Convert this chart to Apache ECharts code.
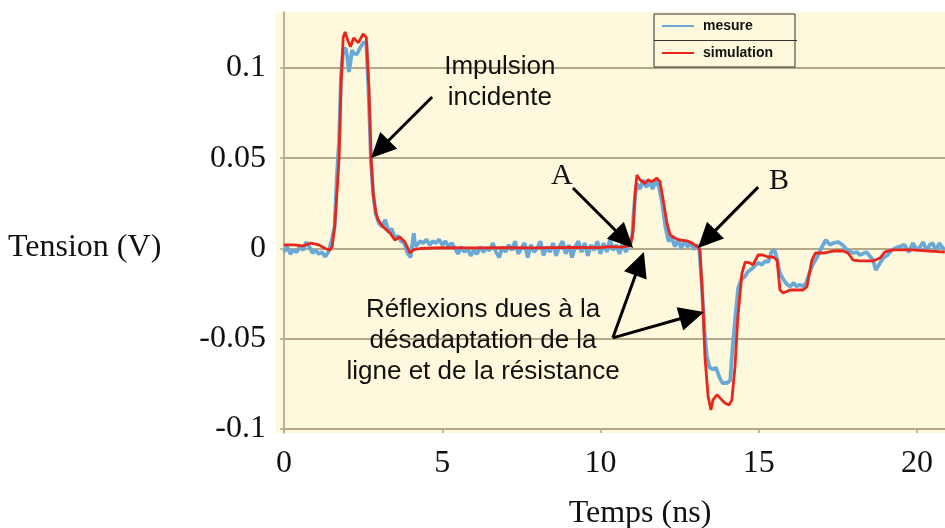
<!DOCTYPE html>
<html><head><meta charset="utf-8">
<script src="https://cdn.jsdelivr.net/npm/echarts@6/dist/echarts.min.js"></script>
<style>html,body{margin:0;padding:0;background:#fff}#c{width:945px;height:528px}</style>
</head><body><div id="c"></div>
<script>
// ---- data ----
const xTicks = [0, 5, 10, 15, 20];
const yTicks = [-0.1, -0.05, 0, 0.05, 0.1];
const yTickLabels = ['-0.1', '-0.05', '0', '0.05', '0.1'];
const seriesNames = ['mesure', 'simulation'];
const xName = 'Temps (ns)';
const yName = 'Tension (V)';

// simulation (red) : [time ns, voltage V]
const simulation = [
 [0.0,0.002],[0.3,0.002],[0.6,0.0015],[0.85,0.003],[1.1,0.002],[1.3,0.0],[1.45,-0.001],[1.52,0.001],
 [1.6,0.012],[1.67,0.03],[1.74,0.05],[1.8,0.09],[1.87,0.117],[1.93,0.120],[2.0,0.116],[2.1,0.1117],
 [2.2,0.1166],[2.35,0.114],[2.5,0.1188],[2.6,0.117],[2.68,0.09],[2.75,0.050],[2.82,0.03],[2.9,0.02],
 [2.97,0.016],[3.13,0.012],[3.35,0.0086],[3.5,0.0047],[3.66,0.0064],[3.82,0.0036],[3.98,-0.0025],
 [4.08,-0.0008],[4.3,0.0],[5.0,0.0005],[6.0,0.0003],[7.0,0.0005],[8.0,0.0003],[9.0,0.0006],[10.0,0.0005],
 [10.3,0.001],[10.7,0.0008],[10.95,0.002],[11.03,0.010],[11.1,0.032],[11.15,0.0407],[11.25,0.038],
 [11.41,0.036],[11.5,0.038],[11.63,0.037],[11.78,0.039],[11.88,0.037],[11.98,0.027],[12.1,0.014],
 [12.2,0.0075],[12.35,0.0058],[12.5,0.0047],[12.73,0.0042],[12.9,0.003],[13.08,0.0008],[13.14,-0.0008],
 [13.24,-0.032],[13.30,-0.060],[13.40,-0.082],[13.49,-0.0895],[13.55,-0.084],[13.68,-0.081],[13.84,-0.084],
 [13.93,-0.0856],[14.06,-0.0867],[14.15,-0.084],[14.25,-0.0656],[14.34,-0.038],[14.47,-0.0136],
 [14.57,-0.0075],[14.72,-0.008],[14.82,-0.009],[14.98,-0.0036],[15.13,-0.0036],[15.29,-0.0047],
 [15.45,-0.0047],[15.58,-0.0064],[15.67,-0.023],[15.77,-0.0247],[15.99,-0.023],[16.21,-0.023],
 [16.40,-0.023],[16.52,-0.0213],[16.68,-0.0064],[16.79,-0.0025],[17.04,-0.0025],[17.35,-0.0014],
 [17.66,-0.0014],[17.82,-0.0025],[17.98,-0.0064],[18.20,-0.0069],[18.61,-0.0069],[18.83,-0.0053],
 [18.99,-0.0019],[19.24,-0.0008],[19.87,-0.0008],[20.41,-0.0014],[20.88,-0.002]
];

// mesure (blue) : [time ns, voltage V]
const mesure = [
 [0.0,-0.002],[0.1,0.001],[0.2,-0.003],[0.3,-0.001],[0.4,-0.002],[0.5,0.001],[0.6,-0.001],[0.7,0.0035],
 [0.8,0.001],[0.9,-0.0025],[1.0,-0.001],[1.1,-0.003],[1.2,-0.002],[1.3,-0.0045],[1.4,-0.002],[1.5,0.004],
 [1.55,0.003],[1.6,0.012],[1.67,0.04],[1.74,0.06],[1.8,0.095],[1.87,0.11],[1.95,0.111],[2.0,0.106],
 [2.05,0.0978],[2.1,0.103],[2.15,0.110],[2.2,0.108],[2.3,0.1075],[2.4,0.111],[2.5,0.114],[2.6,0.114],
 [2.67,0.088],[2.75,0.048],[2.82,0.03],[2.9,0.019],[3.0,0.014],[3.1,0.012],[3.2,0.016],[3.3,0.009],
 [3.4,0.011],[3.5,0.006],[3.6,0.007],[3.7,0.004],[3.8,0.003],[3.9,-0.0025],[4.0,-0.005],[4.1,0.0085],
 [4.15,0.001],[4.2,0.002],[4.3,0.004],[4.4,0.003],[4.5,0.005],[4.6,0.002],[4.7,0.004],[4.8,0.003],
 [4.9,0.005],[5.0,0.002],[5.1,0.004],[5.2,0.001],[5.3,0.003],[5.4,0.0],[5.5,-0.003],[5.6,0.001],
 [5.7,-0.002],[5.8,0.0],[5.9,-0.004],[6.0,-0.001],[6.1,-0.003],[6.2,0.001],[6.3,-0.002],[6.4,0.0],
 [6.5,-0.001],[6.6,0.003],[6.7,-0.002],[6.8,-0.005],[6.9,0.001],[7.0,-0.002],[7.1,0.002],[7.2,-0.001],
 [7.3,0.004],[7.4,-0.003],[7.5,0.0],[7.6,0.003],[7.7,-0.005],[7.8,0.002],[7.9,-0.002],[8.0,0.0],
 [8.1,0.004],[8.2,-0.004],[8.3,0.001],[8.4,-0.002],[8.5,0.003],[8.6,-0.004],[8.7,0.001],[8.8,0.004],
 [8.9,-0.003],[9.0,0.002],[9.1,-0.005],[9.2,0.001],[9.3,0.004],[9.4,-0.002],[9.5,0.003],[9.6,-0.004],
 [9.7,0.002],[9.8,-0.001],[9.9,0.004],[10.0,-0.003],[10.1,0.003],[10.2,-0.002],[10.3,0.005],[10.4,-0.001],
 [10.5,0.002],[10.6,-0.003],[10.7,0.003],[10.8,-0.002],[10.9,0.002],[11.0,0.006],[11.05,0.02],[11.1,0.03],
 [11.15,0.036],[11.25,0.033],[11.35,0.038],[11.45,0.034],[11.55,0.037],[11.65,0.033],[11.75,0.038],
 [11.85,0.034],[11.95,0.025],[12.05,0.012],[12.15,0.004],[12.25,0.006],[12.35,0.001],[12.45,0.005],
 [12.55,0.0],[12.65,0.004],[12.75,0.001],[12.85,0.003],[12.95,-0.0005],[13.05,0.002],[13.12,0.0005],
 [13.2,-0.02],[13.28,-0.045],[13.36,-0.06],[13.45,-0.066],[13.55,-0.067],[13.65,-0.066],[13.75,-0.071],
 [13.85,-0.0745],[14.0,-0.0745],[14.1,-0.073],[14.15,-0.06],[14.25,-0.04],[14.35,-0.022],[14.45,-0.017],
 [14.55,-0.0158],[14.65,-0.013],[14.8,-0.011],[14.9,-0.009],[15.0,-0.008],[15.1,-0.009],[15.2,-0.007],
 [15.3,-0.0075],[15.4,-0.002],[15.5,-0.0008],[15.58,-0.006],[15.67,-0.0136],[15.77,-0.017],[15.9,-0.02],
 [16.0,-0.021],[16.1,-0.019],[16.2,-0.021],[16.3,-0.02],[16.4,-0.021],[16.5,-0.019],[16.6,-0.0136],
 [16.7,-0.009],[16.85,-0.0047],[17.0,0.001],[17.12,0.0047],[17.25,0.002],[17.35,0.003],[17.5,0.0036],
 [17.65,0.002],[17.8,-0.001],[17.98,-0.0025],[18.1,-0.002],[18.2,-0.0036],[18.4,-0.002],[18.5,-0.004],
 [18.61,-0.0064],[18.7,-0.012],[18.83,-0.008],[18.95,-0.005],[19.05,-0.004],[19.2,-0.001],[19.35,0.0005],
 [19.45,0.001],[19.6,0.002],[19.75,-0.002],[19.87,0.003],[20.0,-0.001],[20.1,0.001],[20.2,0.0036],
 [20.3,-0.0015],[20.4,0.002],[20.5,0.003],[20.6,-0.0015],[20.7,0.003],[20.88,-0.001]
];

// annotations (data coordinates)
const textNotes = [
 {text: 'Impulsion\nincidente', at: [6.82, 0.0922], serif: false},
 {text: 'Réflexions dues à la\ndésadaptation de la\nligne et de la résistance', at: [6.29, -0.0512], serif: false},
 {text: 'A', at: [8.78, 0.0402], serif: true},
 {text: 'B', at: [15.64, 0.0374], serif: true}
];
const arrowNotes = [
 {from: [4.68, 0.0839], to: [2.75, 0.0501]},
 {from: [9.13, 0.0335], to: [11.03, 0.0003]},
 {from: [14.98, 0.0340], to: [13.08, 0.0003]},
 {from: [10.39, -0.0495], to: [11.37, -0.0019]},
 {from: [10.39, -0.0495], to: [13.27, -0.0352]}
];

// ---- chart ----
const X_MIN = -0.253, X_MAX = 20.885, Y_MIN = -0.1022, Y_MAX = 0.131;
const SERIF = '"Liberation Serif", "DejaVu Serif", serif';
const SANS = '"Liberation Sans", Arial, sans-serif';
const GRID_COLOR = '#b3a88c';
const BLUE = '#6aa9d6', RED = '#e8261c';

const chart = echarts.init(document.getElementById('c'), null, {renderer: 'canvas'});
chart.setOption({
  animation: false,
  grid: {left: 276, right: 0, top: 12, bottom: 95, show: true, backgroundColor: '#fef9dc', borderWidth: 0},
  legend: {
    data: seriesNames, orient: 'vertical', left: 654, top: 14, icon: 'rect',
    padding: [5, 22, 7, 8], itemGap: 13, itemWidth: 32, itemHeight: 2,
    backgroundColor: '#fef9dc', borderColor: '#333', borderWidth: 1,
    textStyle: {fontFamily: SANS, fontWeight: 'bold', fontSize: 14, color: '#111', lineHeight: 14, padding: [0, 0, 0, 4]}
  },
  xAxis: {
    type: 'value', min: X_MIN, max: X_MAX,
    axisLine: {show: false, onZero: false},
    splitLine: {show: false},
    axisTick: {show: true, customValues: xTicks, inside: true, length: 5, lineStyle: {color: GRID_COLOR, width: 1.5}},
    axisLabel: {customValues: xTicks, margin: 15, fontFamily: SERIF, fontSize: 32, color: '#111'}
  },
  yAxis: {
    type: 'value', min: Y_MIN, max: Y_MAX,
    axisLine: {show: true, onZero: true, lineStyle: {color: '#a8997e', width: 1.5}},
    splitLine: {show: false},
    axisTick: {show: true, customValues: yTicks, length: 4, lineStyle: {color: GRID_COLOR, width: 1.5}},
    axisLabel: {customValues: yTicks, margin: 10, fontFamily: SERIF, fontSize: 32, color: '#111',
      formatter: v => { const i = yTicks.findIndex(t => Math.abs(t - v) < 1e-9); return i >= 0 ? yTickLabels[i] : ''; }}
  },
  series: [
    {name: seriesNames[0], type: 'line', data: mesure, symbol: 'none', z: 3,
     lineStyle: {color: BLUE, width: 3.8}, itemStyle: {color: BLUE},
     markLine: {silent: true, z: 1, symbol: 'none', label: {show: false},
       lineStyle: {color: GRID_COLOR, width: 1.8, type: 'solid'},
       data: yTicks.map(v => [{coord: [0, v]}, {coord: [X_MAX, v]}])}},
    {name: seriesNames[1], type: 'line', data: simulation, symbol: 'none', z: 4,
     lineStyle: {color: RED, width: 2.8}, itemStyle: {color: RED}}
  ]
});

// annotations converted from data coordinates
const g = [];
const toPx = p => chart.convertToPixel({gridIndex: 0}, p);
textNotes.forEach(n => {
  const p = toPx(n.at);
  g.push({type: 'text', z: 50, style: {text: n.text, x: p[0], y: p[1], align: 'center', verticalAlign: 'middle',
    fontFamily: n.serif ? SERIF : SANS, fontSize: n.serif ? 30 : 26, lineHeight: 31, fill: '#111'}});
});
arrowNotes.forEach(a => {
  const p0 = toPx(a.from), p1 = toPx(a.to);
  const dx = p1[0] - p0[0], dy = p1[1] - p0[1], L = Math.hypot(dx, dy);
  const ux = dx / L, uy = dy / L, nx = -uy, ny = ux;
  const hl = 25, hw = 24;
  const bx = p1[0] - ux * hl, by = p1[1] - uy * hl;
  g.push({type: 'line', z: 50, shape: {x1: p0[0], y1: p0[1], x2: bx + ux * 2, y2: by + uy * 2}, style: {stroke: '#000', lineWidth: 3}});
  g.push({type: 'polygon', z: 50, shape: {points: [[p1[0], p1[1]], [bx + nx * hw / 2, by + ny * hw / 2], [bx - nx * hw / 2, by - ny * hw / 2]]}, style: {fill: '#000'}});
});
// axis titles and legend divider
g.push({type: 'text', z: 50, style: {text: yName, x: 8, y: 248, align: 'left', verticalAlign: 'middle', fontFamily: SERIF, fontSize: 32, fill: '#111'}});
g.push({type: 'text', z: 50, style: {text: xName, x: 640, y: 514, align: 'center', verticalAlign: 'middle', fontFamily: SERIF, fontSize: 32, fill: '#111'}});
g.push({type: 'line', z: 60, shape: {x1: 654, y1: 40.5, x2: 797, y2: 40.5}, style: {stroke: '#333', lineWidth: 1}});
chart.setOption({graphic: g});
</script>
</body></html>
